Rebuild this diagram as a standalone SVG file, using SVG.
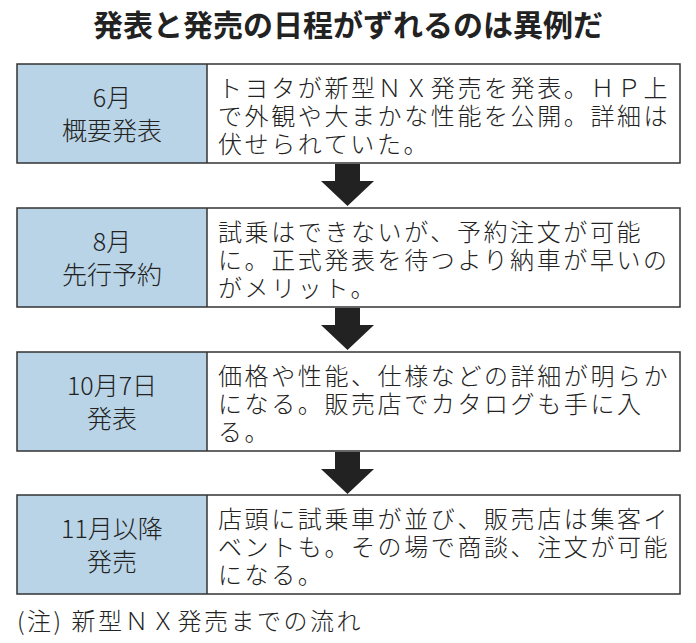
<svg xmlns="http://www.w3.org/2000/svg" width="696" height="643" viewBox="0 0 696 643">
<style>
text{font-family:"Noto Sans CJK JP","Noto Sans",sans-serif;fill:#222}
.t{font-size:30px;font-weight:bold;text-anchor:middle}
.l{font-size:25px;text-anchor:middle;font-weight:300}
.b{font-size:24px;letter-spacing:2.6px;font-weight:300}
.f{font-size:24px;font-weight:300;letter-spacing:2.5px}
.lc{fill:#b9d4e6;stroke:none}
.bx{fill:none;stroke:#333;stroke-width:1.5}
.ar{fill:#222}
</style>
<rect width="696" height="643" fill="#fff"/>
<text class="t" x="348" y="36">発表と発売の日程がずれるのは異例だ</text>
<g id="n1"><rect x="17" y="64" width="190" height="99" class="lc"/><rect x="17" y="64" width="663" height="99" class="bx"/><line x1="207" y1="64" x2="207" y2="163" class="bx"/>
<text class="l" x="112" y="107">6月</text><text class="l" x="112" y="140">概要発表</text>
<text class="b" x="218" y="97">トヨタが新型ＮＸ発売を発表。ＨＰ上</text><text class="b" x="218" y="125">で外観や大まかな性能を公開。詳細は</text><text class="b" x="218" y="153">伏せられていた。</text></g>
<g id="n2"><rect x="17" y="208" width="190" height="99" class="lc"/><rect x="17" y="208" width="663" height="99" class="bx"/><line x1="207" y1="208" x2="207" y2="307" class="bx"/>
<text class="l" x="112" y="251">8月</text><text class="l" x="112" y="284">先行予約</text>
<text class="b" x="218" y="241">試乗はできないが、予約注文が可能</text><text class="b" x="218" y="269">に。正式発表を待つより納車が早いの</text><text class="b" x="218" y="297">がメリット。</text></g>
<g id="n3"><rect x="17" y="352" width="190" height="99" class="lc"/><rect x="17" y="352" width="663" height="99" class="bx"/><line x1="207" y1="352" x2="207" y2="451" class="bx"/>
<text class="l" x="112" y="395">10月7日</text><text class="l" x="112" y="428">発表</text>
<text class="b" x="218" y="385">価格や性能、仕様などの詳細が明らか</text><text class="b" x="218" y="413">になる。販売店でカタログも手に入</text><text class="b" x="218" y="441">る。</text></g>
<g id="n4"><rect x="17" y="495" width="190" height="99" class="lc"/><rect x="17" y="495" width="663" height="99" class="bx"/><line x1="207" y1="495" x2="207" y2="594" class="bx"/>
<text class="l" x="112" y="538">11月以降</text><text class="l" x="112" y="571">発売</text>
<text class="b" x="218" y="528">店頭に試乗車が並び、販売店は集客イ</text><text class="b" x="218" y="556">ベントも。その場で商談、注文が可能</text><text class="b" x="218" y="584">になる。</text></g>
<g id="connectors">
<polygon class="ar" points="335,164 360,164 360,181 374,181 347.5,206 321,181 335,181"/>
<polygon class="ar" points="335,308 360,308 360,325 374,325 347.5,350 321,325 335,325"/>
<polygon class="ar" points="335,452 360,452 360,469 374,469 347.5,494 321,469 335,469"/>
</g>
<text class="f" x="17" y="630">(注) 新型ＮＸ発売までの流れ</text>
</svg>
